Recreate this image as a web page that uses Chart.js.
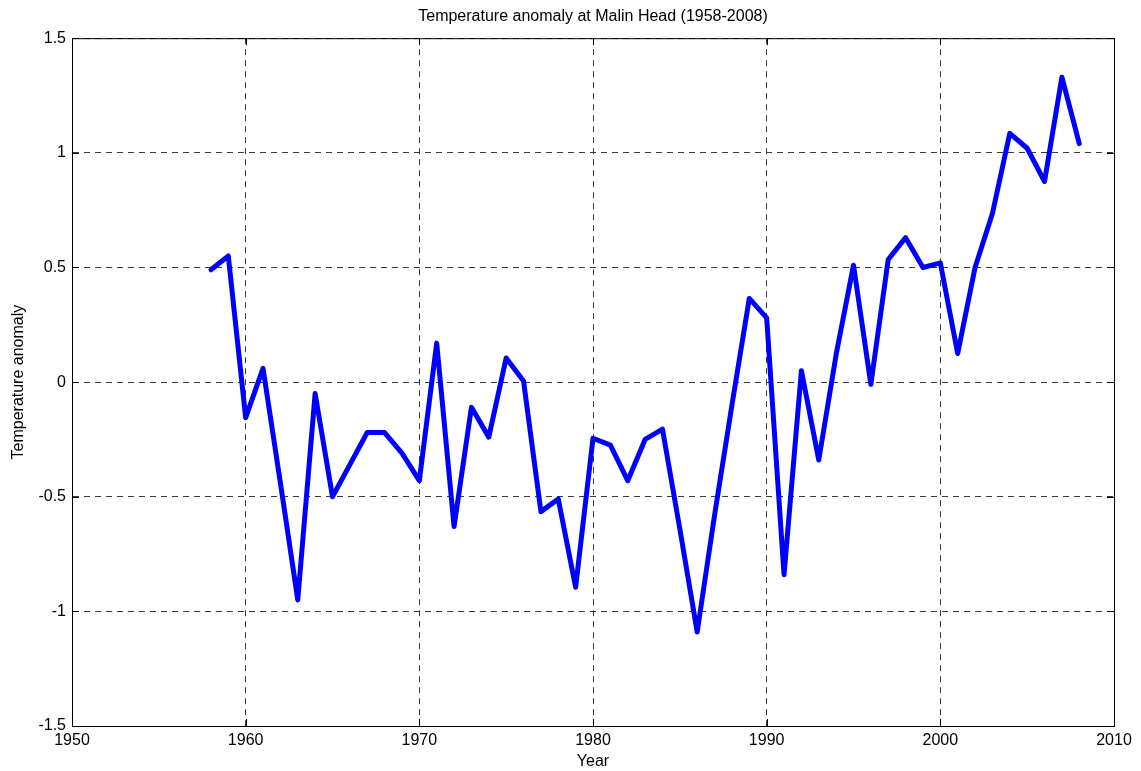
<!DOCTYPE html>
<html>
<head>
<meta charset="utf-8">
<title>Temperature anomaly at Malin Head</title>
<script src="https://cdn.jsdelivr.net/npm/chart.js@4/dist/chart.umd.min.js"></script>
<style>
    html, body { margin: 0; padding: 0; background: #fff; }
    #wrap { width: 1141px; height: 771px; }
</style>
</head>
<body>
<div id="wrap"><canvas id="chartMalin" width="1141" height="771"></canvas></div>
<script>
// data
const years = [
    1958, 1959, 1960, 1961, 1962, 1963, 1964, 1965, 1966, 1967,
    1968, 1969, 1970, 1971, 1972, 1973, 1974, 1975, 1976, 1977,
    1978, 1979, 1980, 1981, 1982, 1983, 1984, 1985, 1986, 1987,
    1988, 1989, 1990, 1991, 1992, 1993, 1994, 1995, 1996, 1997,
    1998, 1999, 2000, 2001, 2002, 2003, 2004, 2005, 2006, 2007,
    2008
];
const anomaly = [
    0.49, 0.55, -0.155, 0.06, -0.44, -0.95, -0.05, -0.50, -0.36, -0.22,
    -0.22, -0.31, -0.43, 0.17, -0.63, -0.11, -0.24, 0.105, 0.005, -0.565,
    -0.51, -0.895, -0.245, -0.275, -0.43, -0.25, -0.205, -0.64, -1.09, -0.58,
    -0.10, 0.365, 0.28, -0.84, 0.05, -0.34, 0.12, 0.51, -0.01, 0.535,
    0.63, 0.50, 0.52, 0.125, 0.50, 0.735, 1.085, 1.02, 0.875, 1.33,
    1.04
];
const xTicks = [1950, 1960, 1970, 1980, 1990, 2000, 2010];
const yTicks = [-1.5, -1, -0.5, 0, 0.5, 1, 1.5];

const FONT = "'Liberation Sans', Arial, sans-serif";
const TICK_LEN = 7;

// solid box round the axes plus inward tick marks, matlab style
const framePlugin = {
    id: 'frame',
    afterDraw(chart) {
        const { ctx, chartArea: a, scales } = chart;
        ctx.save();
        ctx.strokeStyle = '#000';
        ctx.lineWidth = 1;
        ctx.setLineDash([]);
        ctx.strokeRect(a.left + 0.5, a.top + 0.5, a.right - a.left, a.bottom - a.top);
        ctx.beginPath();
        for (let t of scales.x.ticks) {
            const px = Math.round(scales.x.getPixelForValue(t.value)) + 0.5;
            ctx.moveTo(px, a.bottom);
            ctx.lineTo(px, a.bottom - TICK_LEN);
            ctx.moveTo(px, a.top);
            ctx.lineTo(px, a.top + TICK_LEN);
        }
        for (let t of scales.y.ticks) {
            const py = Math.round(scales.y.getPixelForValue(t.value)) + 0.5;
            ctx.moveTo(a.left, py);
            ctx.lineTo(a.left + TICK_LEN, py);
            ctx.moveTo(a.right, py);
            ctx.lineTo(a.right - TICK_LEN, py);
        }
        ctx.stroke();
        ctx.restore();
    }
};

const points = years.map((y, i) => ({ x: y, y: anomaly[i] }));

new Chart(document.getElementById('chartMalin'), {
    type: 'line',
    data: {
        datasets: [{
            label: 'Temperature anomaly',
            data: points,
            borderColor: '#0000ff',
            borderWidth: 5,
            pointRadius: 0,
            tension: 0,
            borderJoinStyle: 'round',
            borderCapStyle: 'round',
            fill: false
        }]
    },
    options: {
        responsive: false,
        animation: false,
        devicePixelRatio: 1,
        layout: { padding: { left: 0, right: 27, top: 0, bottom: 0 } },
        plugins: {
            legend: { display: false },
            tooltip: { enabled: false },
            title: {
                display: true,
                text: 'Temperature anomaly at Malin Head (1958-2008)',
                fullSize: false,
                color: '#000',
                font: { family: FONT, size: 16, weight: 'normal' },
                padding: { top: 7, bottom: 12 }
            }
        },
        scales: {
            x: {
                type: 'linear',
                min: 1950,
                max: 2010,
                afterFit: s => { s.height = 45; },
                afterBuildTicks: s => { s.ticks = xTicks.map(v => ({ value: v })); },
                grid: { color: '#3a3a3a', lineWidth: 1, drawTicks: false },
                border: { display: true, color: '#000', width: 1, dash: [6, 5] },
                ticks: {
                    color: '#000',
                    font: { family: FONT, size: 16 },
                    padding: 5,
                    maxRotation: 0,
                    autoSkip: false,
                    callback: v => String(v)
                },
                title: {
                    display: true,
                    text: 'Year',
                    color: '#000',
                    font: { family: FONT, size: 16 },
                    padding: { top: 0, bottom: 0 }
                }
            },
            y: {
                min: -1.5,
                max: 1.5,
                afterFit: s => { s.width = 72; },
                afterBuildTicks: s => { s.ticks = yTicks.map(v => ({ value: v })); },
                grid: { color: '#3a3a3a', lineWidth: 1, drawTicks: false },
                border: { display: true, color: '#000', width: 1, dash: [6, 5] },
                ticks: {
                    color: '#000',
                    font: { family: FONT, size: 16 },
                    padding: 6,
                    callback: v => String(v)
                },
                title: {
                    display: true,
                    text: 'Temperature anomaly',
                    color: '#000',
                    font: { family: FONT, size: 16 },
                    padding: { top: 9, bottom: 0 }
                }
            }
        }
    },
    plugins: [framePlugin]
});
</script>
</body>
</html>
